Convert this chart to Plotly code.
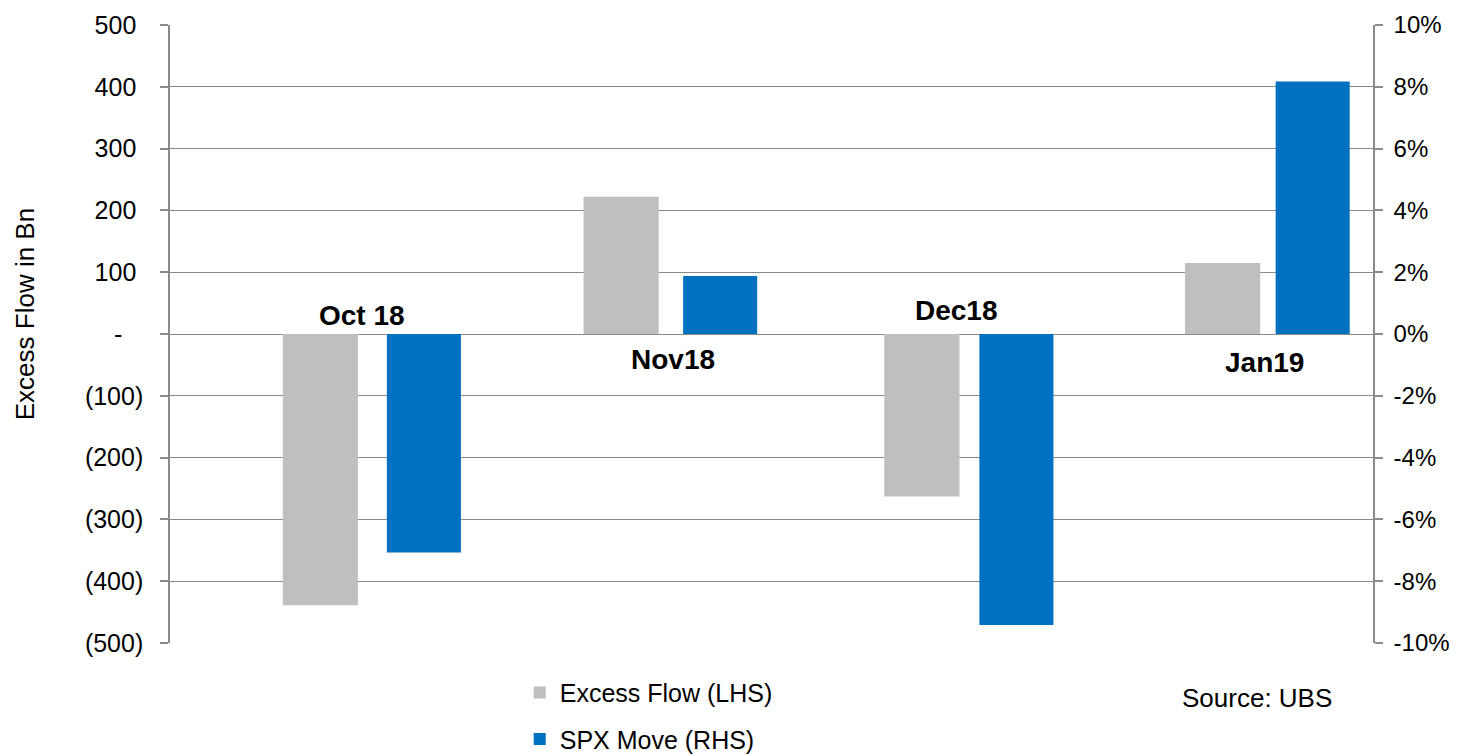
import plotly.graph_objects as go

months = ["Oct 18", "Nov18", "Dec18", "Jan19"]
excess_flow = [-439, 222, -263, 115]          # Bn, LHS
spx_move = [-7.07, 1.88, -9.42, 8.17]         # %, RHS

left_tickvals = [500, 400, 300, 200, 100, 0, -100, -200, -300, -400, -500]
left_ticktext = ["500", "400", "300", "200", "100", "-", "(100)", "(200)",
                 "(300)", "(400)", "(500)"]
right_tickvals = [10, 8, 6, 4, 2, 0, -2, -4, -6, -8, -10]
right_ticktext = ["10%", "8%", "6%", "4%", "2%", "0%", "-2%", "-4%", "-6%",
                  "-8%", "-10%"]

FONT = "Arial, Liberation Sans, sans-serif"
GRID = "#8a8a8a"

# accounting-style padding for positive / zero labels
pad_left = []
for t in left_ticktext:
    if t.startswith("("):
        pad_left.append(t)
    elif t == "-":
        pad_left.append(t + "\u2007\u2008")
    else:
        pad_left.append(t + "\u2008")

fig = go.Figure()
fig.add_trace(go.Bar(
    x=months, y=excess_flow, name="Excess Flow (LHS)",
    marker=dict(color="#bfbfbf", line=dict(width=0)),
    width=0.25, xaxis="x", yaxis="y", legendgroup="a",
))
fig.add_trace(go.Bar(
    x=months, y=spx_move, name="SPX Move (RHS)",
    marker=dict(color="#0070c0", line=dict(width=0)),
    width=0.25, xaxis="x2", yaxis="y2", legendgroup="b",
))

# month labels: above zero for falling months, below zero for rising months
label_shift = [(42, 19), (52, -25), (35, 24), (42, -28)]
for m, (dx, dy) in zip(months, label_shift):
    fig.add_annotation(x=m, y=0, xref="x", yref="y", text="<b>%s</b>" % m,
                       showarrow=False, xshift=dx, yshift=dy,
                       xanchor="center", yanchor="middle",
                       font=dict(family=FONT, size=28, color="#000000"))

fig.add_annotation(x=-0.1205, y=0.532, xref="paper", yref="paper",
                   text="Excess Flow in Bn", textangle=-90, showarrow=False,
                   xanchor="center", yanchor="middle",
                   font=dict(family=FONT, size=26, color="#000000"))
fig.add_annotation(x=0.9036, y=-0.089, xref="paper", yref="paper",
                   text="Source: UBS", showarrow=False,
                   xanchor="center", yanchor="middle",
                   font=dict(family=FONT, size=26, color="#000000"))

# the page body adds an 8px offset, so the figure is 8px smaller on top/left
fig.update_layout(
    width=1450, height=746,
    margin=dict(l=162, r=85, t=17, b=111, autoexpand=False),
    paper_bgcolor="white", plot_bgcolor="white",
    barmode="overlay",
    font=dict(family=FONT, size=24, color="#000000"),
    showlegend=True,
    legend=dict(x=0.2907, y=-0.0434, xanchor="left", yanchor="top",
                orientation="v", tracegroupgap=11,
                font=dict(family=FONT, size=25, color="#000000"),
                itemwidth=30, bgcolor="rgba(0,0,0,0)"),
    xaxis=dict(type="category", categoryorder="array", categoryarray=months,
               range=[-0.5, 3.5], showticklabels=False, ticks="",
               showgrid=False, zeroline=False, showline=False, fixedrange=True,
               automargin=False),
    xaxis2=dict(type="category", categoryorder="array", categoryarray=months,
                overlaying="x", anchor="y", range=[-0.857, 3.2036],
                visible=False, showgrid=False, zeroline=False, automargin=False),
    yaxis=dict(range=[-500, 500], tickvals=left_tickvals, ticktext=pad_left,
               ticks="outside", ticklen=8, tickcolor=GRID, tickwidth=1.5,
               showgrid=True, gridcolor=GRID, gridwidth=1.4,
               zeroline=False, showline=True, linecolor=GRID, linewidth=1.5,
               ticklabelstandoff=12, automargin=False,
               tickfont=dict(family=FONT, size=25, color="#000000")),
    yaxis2=dict(range=[-10, 10], tickvals=right_tickvals, ticktext=right_ticktext,
                overlaying="y", side="right", anchor="x",
                ticks="outside", ticklen=8, tickcolor=GRID, tickwidth=1.5,
                showgrid=False, zeroline=False, showline=True,
                linecolor=GRID, linewidth=1.5, ticklabelstandoff=6,
                automargin=False,
                tickfont=dict(family=FONT, size=24, color="#000000")),
)

fig.write_html("out.html")
